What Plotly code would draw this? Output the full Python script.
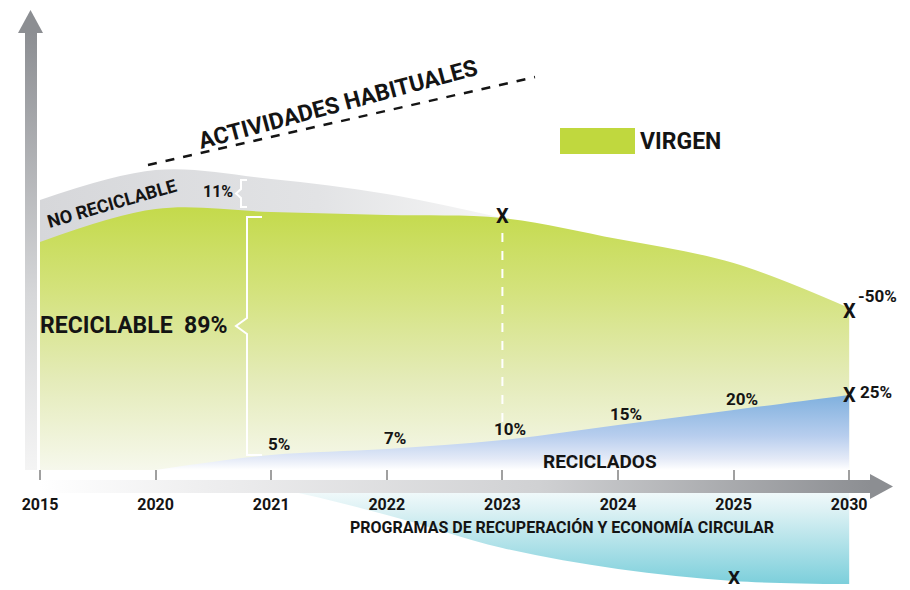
import plotly.graph_objects as go

# values (y = share of material, baseline = 0)
years = ["2015", "2020", "2021", "2022", "2023", "2024", "2025", "2030"]
virgen = [76, 87, 86, 85, 84, 77, 69, 54]            # top of the green band
no_reciclable = [90, 100, 97, 92, 84]                 # top of the grey band, 2015-2023
reciclados = [0, 5, 7, 10, 15, 20, 25]                # 2020-2030
recuperacion = [-3, -6, -15, -26, -33, -37, -38]      # programmes, below the axis, 2020-2030
reciclados_labels = ["", "5%", "7%", "10%", "15%", "20%", ""]

idx = list(range(len(years)))
FONT = "Roboto"
INK = "#141414"

fig = go.Figure()
noline = dict(width=0, color="rgba(0,0,0,0)", shape="spline")

# grey "no reciclable" band
fig.add_trace(go.Scatter(
    x=idx[:5], y=no_reciclable, mode="lines", line=noline, fill="tozeroy",
    fillgradient=dict(type="horizontal", start=0, stop=4,
                      colorscale=[[0, "#d6d7da"], [0.6, "#e2e3e5"], [1, "#f6f6f6"]]),
    hoverinfo="skip"))

# green recyclable / virgin band
fig.add_trace(go.Scatter(
    x=idx, y=virgen, mode="lines", line=noline, fill="tozeroy",
    fillgradient=dict(type="vertical", start=0, stop=87,
                      colorscale=[[0, "#f6f8ec"], [0.35, "#e4ebb8"], [0.7, "#d3e27a"], [1, "#c4da4c"]]),
    hoverinfo="skip"))

# blue recycled band
fig.add_trace(go.Scatter(
    x=idx[1:], y=reciclados, mode="lines", line=noline, fill="tozeroy",
    fillgradient=dict(type="vertical", start=0, stop=25,
                      colorscale=[[0, "#ffffff"], [0.15, "#e4eaf7"], [0.45, "#b8ceee"], [1, "#7fb0de"]]),
    hoverinfo="skip"))

# cyan band below the axis
fig.add_trace(go.Scatter(
    x=idx[1:], y=recuperacion, mode="lines", line=noline, fill="tozeroy",
    fillgradient=dict(type="vertical", start=-3, stop=-38,
                      colorscale=[[0, "#ffffff"], [0.3, "#dcf1f4"], [1, "#7ccfdb"]]),
    hoverinfo="skip"))

# arrows drawn on a pixel-like overlay axis
fig.add_trace(go.Scatter(
    x=[25, 37, 37, 25, 25], y=[32, 32, 470, 470, 32], xaxis="x2", yaxis="y2",
    mode="lines", line=dict(width=0), fill="toself",
    fillgradient=dict(type="vertical", start=32, stop=470,
                      colorscale=[[0, "#8c8e92"], [0.6, "#d6d7d9"], [1, "#f4f4f4"]]),
    hoverinfo="skip"))
fig.add_trace(go.Scatter(
    x=[18, 43, 30.5, 18], y=[33, 33, 10, 33], xaxis="x2", yaxis="y2",
    mode="lines", line=dict(width=0), fill="toself", fillcolor="#8c8e92", hoverinfo="skip"))
fig.add_trace(go.Scatter(
    x=[40, 871, 871, 40, 40], y=[480, 480, 493, 493, 480], xaxis="x2", yaxis="y2",
    mode="lines", line=dict(width=0), fill="toself",
    fillgradient=dict(type="horizontal", start=40, stop=871,
                      colorscale=[[0, "#ffffff"], [0.2, "#eeeeef"], [0.6, "#d0d1d3"], [1, "#8c8e92"]]),
    hoverinfo="skip"))
fig.add_trace(go.Scatter(
    x=[870, 870, 893, 870], y=[474, 499, 486.5, 474], xaxis="x2", yaxis="y2",
    mode="lines", line=dict(width=0), fill="toself", fillcolor="#8c8e92", hoverinfo="skip"))

shapes = [
    # legend swatch
    dict(type="rect", xref="x2", yref="y2", x0=560, x1=635, y0=128, y1=154,
         fillcolor="#c0d83e", line=dict(width=0)),
    # "actividades habituales" trend line
    dict(type="line", xref="x2", yref="y2", x0=148, y0=165, x1=535, y1=77,
         line=dict(color=INK, width=2.5, dash="dash")),
    # big brace for recyclable
    dict(type="path", xref="x2", yref="y2",
         path="M 262,217 L 247,217 L 247,318 L 236,326 L 247,334 L 247,455 L 262,455",
         line=dict(color="white", width=2)),
    # small brace for no reciclable
    dict(type="path", xref="x2", yref="y2",
         path="M 247,180 L 241,180 L 241,189 L 236,193.5 L 241,198 L 241,207 L 247,207",
         line=dict(color="white", width=2)),
    # dashed white guide at 2023
    dict(type="line", xref="x", yref="y", x0=4, x1=4, y0=reciclados[4] + 1, y1=virgen[4] - 4,
         line=dict(color="white", width=2, dash="dash")),
]

def txt(x, y, text, size, ref="px", angle=0, xanchor="center", yanchor="middle", xs=0, ys=0):
    a = dict(x=x, y=y, text=f"<b>{text}</b>", showarrow=False, textangle=angle,
             font=dict(family=FONT, size=size, color=INK),
             xanchor=xanchor, yanchor=yanchor, xshift=xs, yshift=ys)
    if ref == "px":
        a.update(xref="x2", yref="y2")
    return a

annotations = [
    txt(338, 104, "ACTIVIDADES HABITUALES", 23, angle=-15),
    txt(680, 141, "VIRGEN", 23),
    txt(111, 203, "NO RECICLABLE", 18, angle=-16),
    txt(218, 191, "11%", 16),
    txt(134, 325, "RECICLABLE&nbsp;&nbsp;89%", 23),
    txt(600, 461, "RECICLADOS", 19),
    txt(562, 527, "PROGRAMAS DE RECUPERACIÓN Y ECONOMÍA CIRCULAR", 16),
]
for i, lab in enumerate(reciclados_labels):
    if lab:
        annotations.append(txt(idx[i + 1], reciclados[i], lab, 17, ref="data",
                               yanchor="bottom", xs=8, ys=-1))
# X marks
annotations += [
    txt(idx[4], virgen[4], "X", 20, ref="data", ys=2),
    txt(idx[7], virgen[7], "X", 20, ref="data", ys=-3),
    txt(idx[7], virgen[7], "-50%", 17, ref="data", xanchor="left", xs=7, ys=12),
    txt(idx[7], reciclados[6], "X", 20, ref="data", ys=0),
    txt(idx[7], reciclados[6], "25%", 17, ref="data", xanchor="left", xs=9, ys=3),
    txt(idx[6], recuperacion[5], "X", 19, ref="data", ys=4),
]

fig.update_layout(
    width=910, height=590,
    margin=dict(l=0, r=0, t=0, b=0),
    paper_bgcolor="white", plot_bgcolor="white",
    showlegend=False,
    shapes=shapes, annotations=annotations,
    xaxis=dict(range=[-0.346, 7.526], tickvals=idx, ticktext=[f"<b>{y}</b>" for y in years],
               tickfont=dict(family=FONT, size=16, color=INK),
               anchor="free", position=1 - 480 / 590,
               ticks="inside", ticklen=10, tickwidth=1.5, tickcolor="#a0a0a0",
               ticklabelstandoff=13,
               showgrid=False, zeroline=False, showline=False, fixedrange=True),
    yaxis=dict(range=[-40, 156.67], visible=False, fixedrange=True),
    xaxis2=dict(range=[0, 910], overlaying="x", anchor="y2", visible=False),
    yaxis2=dict(range=[590, 0], overlaying="y", anchor="x2", visible=False),
)

# drop the browser's default 8px body margin so the figure sits at the page corner
fig.write_html("out.html", config={"displayModeBar": False},
               post_script="document.body.style.margin='0';")
